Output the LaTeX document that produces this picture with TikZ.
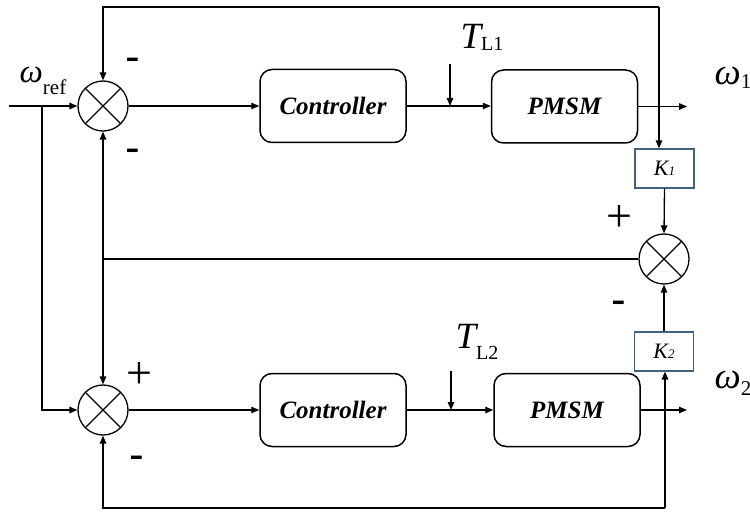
\documentclass[tikz,border=0pt]{standalone}
\usepackage{fontspec}
\setmainfont{Liberation Serif}
\newfontfamily\arialf{Liberation Sans}
\usetikzlibrary{arrows.meta}
\definecolor{kcol}{HTML}{44617B}
\begin{document}
\begin{tikzpicture}[x=1pt,y=-1pt,line width=1.3pt,
  arr/.style={-{Triangle[length=8pt,width=6.5pt]}},
  sumnode/.style={circle,draw,line width=1.3pt,minimum size=50pt,inner sep=0pt,
    path picture={\draw[line width=1.2pt] (path picture bounding box.north west) -- (path picture bounding box.south east)
      (path picture bounding box.north east) -- (path picture bounding box.south west);}},
  blockbox/.style={draw,rounded corners=12pt,line width=1.5pt,minimum width=146pt,minimum height=73pt,
    inner sep=0pt,font=\fontsize{25}{25}\selectfont\bfseries\itshape},
  kbox/.style={draw=kcol,line width=1.2pt,minimum width=59pt,minimum height=39pt,inner sep=0pt,
    font=\fontsize{22}{22}\selectfont\itshape},
  minussign/.style={anchor=base,inner sep=0pt,font=\arialf\fontsize{44}{44}\selectfont},
  plussign/.style={inner sep=0pt,font=\fontsize{46}{46}\selectfont},
  lbl/.style={anchor=base west,inner sep=0pt}]
\useasboundingbox (0,0) rectangle (750,513);

% summing junctions
\node[sumnode] (s1) at (103,106) {};
\node[sumnode] (s2) at (103,410) {};
\node[sumnode] (s3) at (664,259) {};

% blocks
\node[blockbox] (c1) at (333,106) {Controller};
\node[blockbox] (p1) at (564.5,106.5) {PMSM};
\node[blockbox] (c2) at (333,410) {Controller};
\node[blockbox] (p2) at (567,410) {PMSM};
\node[kbox] (k1) at (664.5,168.5) {K\fontsize{13}{13}\selectfont 1};
\node[kbox] (k2) at (664,351.5) {K\fontsize{13}{13}\selectfont 2};

% coordinates
\coordinate (in1) at (9,106);
\coordinate (br) at (42,106);
\coordinate (tl1) at (450,64);
\coordinate (tl2) at (451,371);
\coordinate (o1) at (687,106.5);
\coordinate (o2) at (687,410);
\coordinate (t1) at (659,7);
\coordinate (b2) at (665,508);
\coordinate (j) at (103,259);

% connectors
\draw[arr] (in1) -- (s1.west);
\draw[arr] (br) |- (s2.west);
\draw[arr] (s1.east) -- (c1.west);
\draw[arr] (c1.east) -- (p1.west |- c1.east);
\draw[arr] (tl1) -- (tl1 |- c1.east);
\draw[arr] (p1.east) -- (o1);
\draw[arr] (t1) -- (t1 |- k1.north);
\draw[arr] (t1) -| (s1.north);
\draw[arr] (k1.south) -- (s3.north);
\draw[arr] (k2.north) -- (s3.south);
\draw[arr] (b2) -- (b2 |- k2.south);
\draw[arr] (b2) -| (s2.south);
\draw (s3.west) -- (j);
\draw[arr] (j) -- (s1.south);
\draw[arr] (j) -- (s2.north);
\draw[arr] (s2.east) -- (c2.west);
\draw[arr] (c2.east) -- (p2.west);
\draw[arr] (tl2) -- (tl2 |- c2.east);
\draw[arr] (p2.east) -- (o2);

% signs
\node[minussign] (m1) at (133,72) {-};
\node[minussign] (m2) at (133,163) {-};
\node[minussign] (m3) at (137,469) {-};
\node[minussign] (m4) at (619,314) {-};
\node[plussign] (pl1) at (139,376) {+};
\node[plussign] (pl2) at (619,219) {+};

% labels
\node[lbl] (wref) at (19,83) {\fontsize{33}{33}\selectfont\itshape ω\raisebox{-12pt}{\upshape\fontsize{21}{21}\selectfont ref}};
\node[lbl] (w1) at (714,85) {\fontsize{37}{37}\selectfont\itshape ω\raisebox{-4pt}{\upshape\fontsize{21}{21}\selectfont 1}};
\node[lbl] (w2) at (714,388) {\fontsize{37}{37}\selectfont\itshape ω\raisebox{-7pt}{\upshape\fontsize{21}{21}\selectfont 2}};
\node[lbl] (tL1) at (460,49) {\fontsize{37}{37}\selectfont\itshape T\raisebox{-2pt}{\upshape\fontsize{20}{20}\selectfont L1}};
\node[lbl] (tL2) at (455,348) {\fontsize{37}{37}\selectfont\itshape T\raisebox{-11pt}{\upshape\fontsize{20}{20}\selectfont L2}};
\end{tikzpicture}
\end{document}
